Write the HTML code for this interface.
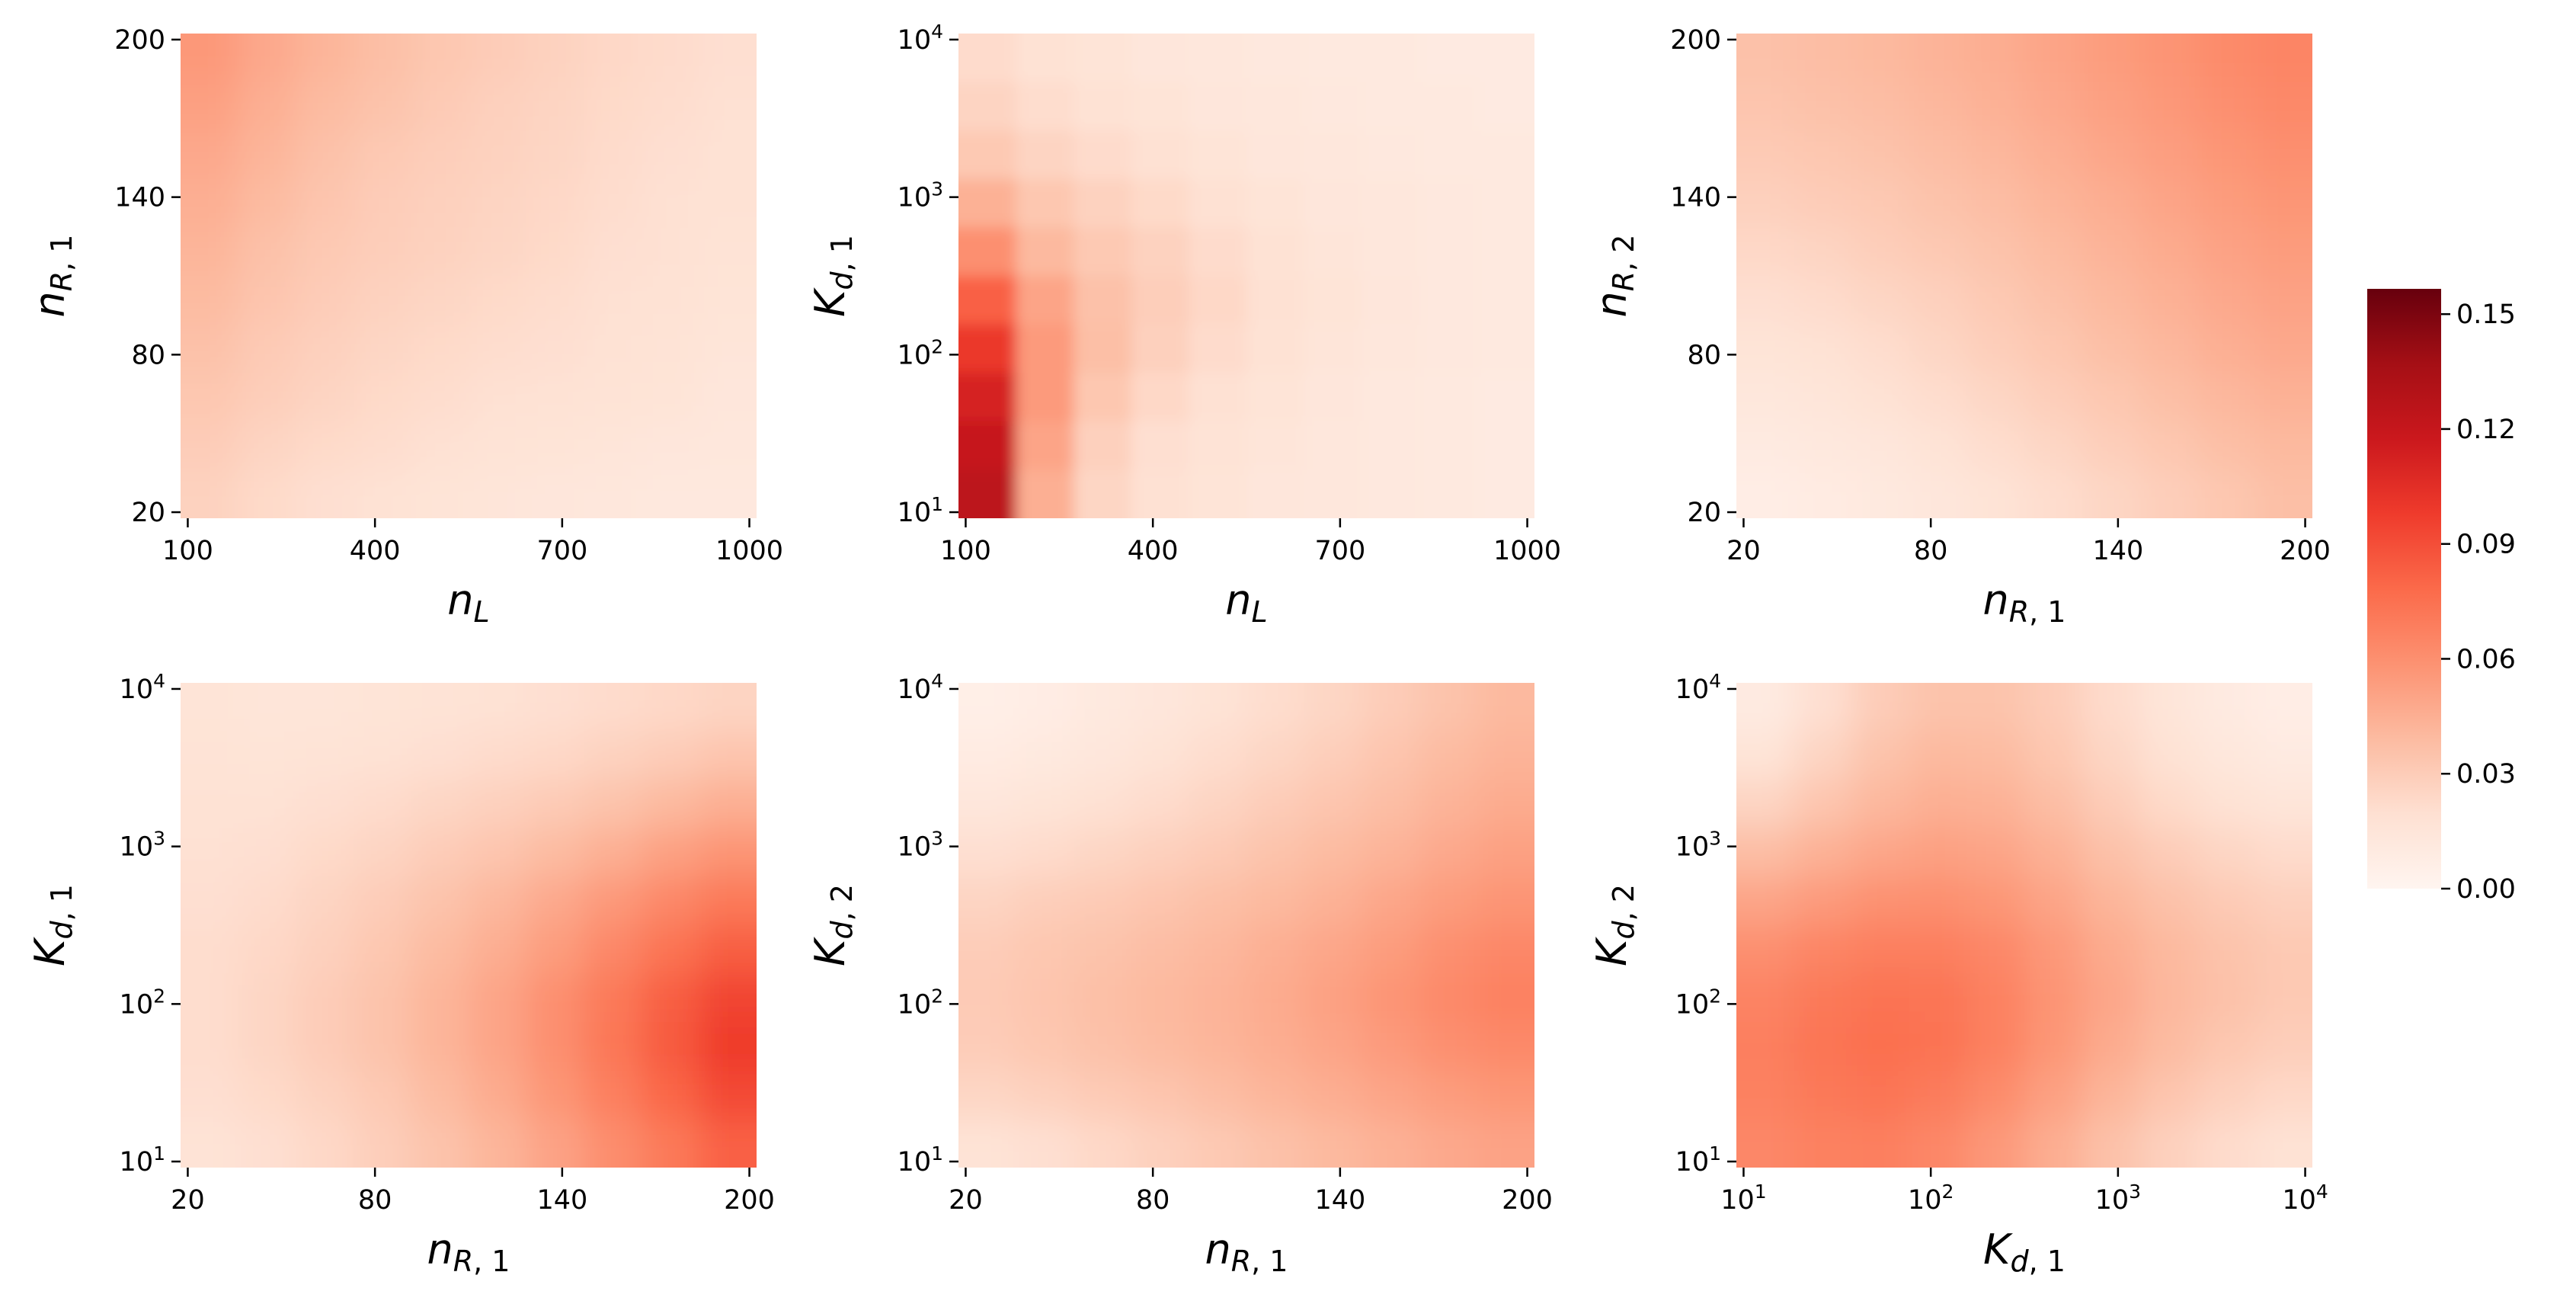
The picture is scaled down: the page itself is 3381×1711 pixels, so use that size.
<!DOCTYPE html>
<html><head><meta charset="utf-8">
<style>
html,body{margin:0;padding:0;background:#fff;}
svg{display:block;font-family:"DejaVu Sans","Liberation Sans",sans-serif;}
</style></head>
<body>
<svg id="fig" xmlns="http://www.w3.org/2000/svg" width="3381" height="1711" viewBox="0 0 3381 1711">
<defs>
<linearGradient id="cbgrad" x1="0" y1="1" x2="0" y2="0">
<stop offset="0" stop-color="#fff5f0"/><stop offset="0.125" stop-color="#fee0d2"/><stop offset="0.25" stop-color="#fcbba1"/><stop offset="0.375" stop-color="#fc9272"/><stop offset="0.5" stop-color="#fb6a4a"/><stop offset="0.625" stop-color="#ef3b2c"/><stop offset="0.75" stop-color="#cb181d"/><stop offset="0.875" stop-color="#a50f15"/><stop offset="1" stop-color="#67000d"/>
</linearGradient>
</defs>
</svg>
<script>
// ---- data (rows top->bottom, cols left->right) ----
const vmax = 0.1566;
const cbTicks = [0.00, 0.03, 0.06, 0.09, 0.12, 0.15];
const tickNR = ["20","80","140","200"];
const tickNL = ["100","400","700","1000"];
const tickK = ["1","2","3","4"]; // exponents for 10^n
const p1 = [
[.056,.048,.042,.037,.033,.030,.027,.024,.022,.020],
[.052,.045,.039,.035,.031,.028,.026,.023,.021,.019],
[.048,.042,.036,.032,.029,.027,.025,.022,.020,.018],
[.045,.039,.034,.030,.028,.026,.024,.021,.019,.018],
[.042,.036,.032,.029,.027,.025,.023,.020,.019,.017],
[.039,.034,.030,.027,.025,.023,.021,.019,.018,.016],
[.036,.031,.028,.025,.023,.021,.020,.018,.017,.015],
[.033,.029,.026,.023,.021,.019,.018,.017,.016,.014],
[.030,.026,.023,.021,.019,.017,.016,.015,.014,.013],
[.027,.023,.020,.018,.016,.015,.014,.013,.012,.012]];
const p2 = [
[.022,.018,.016,.014,.013,.012,.011,.011,.010,.010],
[.026,.021,.018,.016,.014,.013,.012,.011,.011,.010],
[.032,.026,.022,.019,.016,.014,.013,.012,.011,.011],
[.044,.033,.027,.023,.019,.016,.014,.013,.012,.011],
[.060,.040,.032,.027,.022,.018,.015,.013,.012,.011],
[.082,.050,.036,.029,.024,.019,.016,.014,.012,.011],
[.100,.055,.037,.028,.022,.018,.015,.013,.012,.011],
[.112,.055,.033,.024,.019,.016,.014,.012,.011,.010],
[.120,.050,.028,.020,.017,.015,.013,.012,.011,.010],
[.125,.045,.025,.019,.016,.014,.013,.012,.011,.010]];
const p3 = [
[.036,.038,.040,.043,.046,.050,.054,.058,.062,.065],
[.034,.036,.038,.041,.044,.048,.052,.056,.060,.063],
[.031,.033,.035,.038,.041,.045,.049,.053,.057,.060],
[.028,.030,.032,.035,.038,.042,.046,.050,.054,.057],
[.024,.026,.029,.032,.035,.039,.043,.047,.051,.054],
[.020,.022,.025,.028,.032,.036,.040,.044,.048,.051],
[.016,.018,.021,.025,.029,.033,.037,.041,.045,.048],
[.013,.015,.018,.021,.025,.029,.033,.037,.041,.044],
[.010,.012,.014,.017,.021,.025,.029,.033,.037,.040],
[.007,.009,.011,.014,.017,.021,.025,.029,.033,.037]];
const p4 = [
[.016,.015,.015,.016,.017,.018,.020,.022,.024,.026],
[.017,.016,.017,.018,.020,.022,.024,.027,.030,.034],
[.018,.018,.020,.022,.025,.028,.031,.035,.040,.045],
[.019,.020,.023,.026,.030,.034,.039,.045,.052,.058],
[.020,.022,.026,.030,.035,.041,.048,.056,.064,.071],
[.021,.024,.028,.033,.039,.046,.054,.064,.074,.083],
[.021,.025,.030,.035,.042,.050,.060,.071,.083,.094],
[.021,.025,.030,.035,.042,.050,.060,.072,.085,.098],
[.020,.023,.027,.032,.039,.047,.057,.068,.080,.092],
[.017,.020,.024,.029,.035,.042,.051,.061,.071,.082]];
const p5 = [
[.006,.008,.011,.014,.017,.021,.025,.030,.035,.040],
[.009,.011,.014,.017,.021,.025,.029,.034,.039,.043],
[.014,.016,.019,.022,.026,.030,.034,.038,.043,.047],
[.020,.022,.025,.028,.031,.035,.039,.043,.048,.052],
[.026,.029,.031,.034,.037,.040,.044,.049,.054,.058],
[.030,.033,.035,.038,.041,.045,.049,.054,.060,.064],
[.031,.034,.037,.040,.043,.047,.052,.058,.063,.067],
[.030,.033,.036,.039,.042,.046,.050,.055,.060,.063],
[.025,.028,.031,.034,.038,.042,.046,.050,.054,.057],
[.017,.020,.024,.028,.032,.036,.040,.044,.048,.051]];
const p6 = [
[.010,.020,.030,.035,.035,.030,.022,.015,.010,.007],
[.016,.026,.035,.040,.039,.033,.025,.018,.013,.010],
[.026,.034,.041,.045,.044,.038,.030,.023,.018,.015],
[.038,.044,.049,.052,.050,.044,.036,.030,.025,.022],
[.050,.055,.059,.060,.057,.050,.042,.036,.031,.028],
[.060,.065,.068,.068,.064,.056,.047,.040,.035,.032],
[.066,.071,.074,.073,.067,.058,.049,.041,.036,.032],
[.068,.073,.076,.074,.067,.057,.047,.039,.033,.029],
[.067,.071,.073,.070,.062,.052,.042,.034,.028,.024],
[.064,.067,.068,.064,.056,.046,.036,.028,.022,.018]];

// ---- layout ----
const NS = "http://www.w3.org/2000/svg";
const svg = document.getElementById('fig');
const defs = svg.querySelector('defs');
const PW = 756, PH = 636, PAD = 90;
const cols = [237, 1258, 2279], rows = [44, 896];
const stops = [[255,245,240],[254,224,210],[252,187,161],[252,146,114],[251,106,74],[239,59,44],[203,24,29],[165,15,21],[103,0,13]];
function cmap(v){
  let t = Math.max(0, Math.min(1, v / vmax)) * 8;
  let i = Math.min(7, Math.floor(t)), f = t - i;
  const a = stops[i], b = stops[i+1];
  return 'rgb(' + a.map((c,k)=>Math.round(c + (b[k]-c)*f)).join(',') + ')';
}
function el(tag, attrs, parent){
  const e = document.createElementNS(NS, tag);
  for (const k in attrs) e.setAttribute(k, attrs[k]);
  (parent || svg).appendChild(e);
  return e;
}
function tickText(g, x, y, label, anchor, isExp){
  const t = el('text', {x:x, y:y, 'font-size':35, 'text-anchor':anchor, fill:'#000'}, g);
  if (isExp){
    const a = el('tspan', {}, t); a.textContent = '10';
    const b = el('tspan', {dy:-14, 'font-size':25}, t); b.textContent = label;
  } else t.textContent = label;
  return t;
}
function axisLabel(g, x, y, main, sub, rotate){
  const attrs = {x:x, y:y, 'font-size':54, 'text-anchor':'middle', fill:'#000', 'font-style':'italic'};
  if (rotate) attrs.transform = 'rotate(-90 ' + x + ' ' + y + ')';
  const t = el('text', attrs, g);
  const a = el('tspan', {}, t); a.textContent = main;
  const b = el('tspan', {dy:10, 'font-size':38}, t);
  b.innerHTML = sub;
  return t;
}
const subL = 'L';
const subR1 = 'R<tspan font-style="normal">, 1</tspan>';
const subR2 = 'R<tspan font-style="normal">, 2</tspan>';
const subD1 = 'd<tspan font-style="normal">, 1</tspan>';
const subD2 = 'd<tspan font-style="normal">, 2</tspan>';

const panels = [
 {data:p1, c:0, r:0, xt:tickNL, xe:false, yt:tickNR, ye:false, xl:['n',subL], yl:['n',subR1], name:'nr1-vs-nl', s:22},
 {data:p2, c:1, r:0, xt:tickNL, xe:false, yt:tickK, ye:true, xl:['n',subL], yl:['K',subD1], name:'kd1-vs-nl', s:9},
 {data:p3, c:2, r:0, xt:tickNR, xe:false, yt:tickNR, ye:false, xl:['n',subR1], yl:['n',subR2], name:'nr2-vs-nr1', s:22},
 {data:p4, c:0, r:1, xt:tickNR, xe:false, yt:tickK, ye:true, xl:['n',subR1], yl:['K',subD1], name:'kd1-vs-nr1', s:22},
 {data:p5, c:1, r:1, xt:tickNR, xe:false, yt:tickK, ye:true, xl:['n',subR1], yl:['K',subD2], name:'kd2-vs-nr1', s:22},
 {data:p6, c:2, r:1, xt:tickK, xe:true, yt:tickK, ye:true, xl:['K',subD1], yl:['K',subD2], name:'kd2-vs-kd1', s:22}
];
const ylabX = [84, 1108, 2134];

panels.forEach((p, pi) => {
  const x0 = cols[p.c], y0 = rows[p.r];
  const g = el('g', {});
  
  
  const cp = el('clipPath', {id:'clip' + pi}, defs);
  el('rect', {x:x0, y:y0, width:PW, height:PH}, cp);
  const fl = el('filter', {id:'blur' + pi, filterUnits:'userSpaceOnUse', x:x0-PAD, y:y0-PAD, width:PW+2*PAD, height:PH+2*PAD}, defs);
  el('feGaussianBlur', {stdDeviation:p.s}, fl);
  const outer = el('g', {'clip-path':'url(#clip' + pi + ')'}, g);
  const cells = el('g', {filter:'url(#blur' + pi + ')'}, outer);
  const nR = p.data.length, nC = p.data[0].length;
  const cw = PW / nC, ch = PH / nR;
  p.data.forEach((row, i) => row.forEach((v, j) => {
    // edge cells are extended outward so the smoothing does not fade at the border
    let x = x0 + j*cw, y = y0 + i*ch, w = cw + 0.6, h = ch + 0.6;
    if (j === 0) { x -= PAD; w += PAD; }
    if (j === nC-1) { w += PAD; }
    if (i === 0) { y -= PAD; h += PAD; }
    if (i === nR-1) { h += PAD; }
    const r = el('rect', {x:x.toFixed(2), y:y.toFixed(2), width:w.toFixed(2), height:h.toFixed(2), fill:cmap(v)}, cells);
    
    
  }));
  const half = PW / 80, halfY = PH / 80;
  const xg = el('g', {}, g);
  
  
  p.xt.forEach((lab, k) => {
    const x = x0 + half + k * (PW - 2*half) / (p.xt.length - 1);
    el('line', {x1:x, x2:x, y1:y0+PH, y2:y0+PH+12, stroke:'#000', 'stroke-width':2.5}, xg);
    const t = tickText(xg, x, y0 + PH + 54, lab, 'middle', p.xe);
    
    
  });
  const yg = el('g', {}, g);
  
  
  p.yt.forEach((lab, k) => {
    const y = y0 + PH - halfY - k * (PH - 2*halfY) / (p.yt.length - 1);
    el('line', {x1:x0-12, x2:x0, y1:y, y2:y, stroke:'#000', 'stroke-width':2.5}, yg);
    const t = tickText(yg, x0 - 20, y + 12, lab, 'end', p.ye);
    
    
  });
  const xl = axisLabel(g, x0 + PW/2, y0 + PH + 126, p.xl[0], p.xl[1], false);
  
  
  const yl = axisLabel(g, ylabX[p.c], y0 + PH/2, p.yl[0], p.yl[1], true);
  
  
});

// colorbar
const cbX = 3107, cbW = 97, cbTop = 379, cbBot = 1166;
const cb = el('g', {});


el('rect', {x:cbX, y:cbTop, width:cbW, height:cbBot-cbTop, fill:'url(#cbgrad)'}, cb);
cbTicks.forEach(v => {
  const y = cbBot - (v / vmax) * (cbBot - cbTop);
  el('line', {x1:cbX+cbW, x2:cbX+cbW+12, y1:y, y2:y, stroke:'#000', 'stroke-width':2.5}, cb);
  const t = el('text', {x:cbX+cbW+20, y:y+12, 'font-size':35, fill:'#000'}, cb);
  t.textContent = v.toFixed(2);
  
  
});
</script>
</body></html>
